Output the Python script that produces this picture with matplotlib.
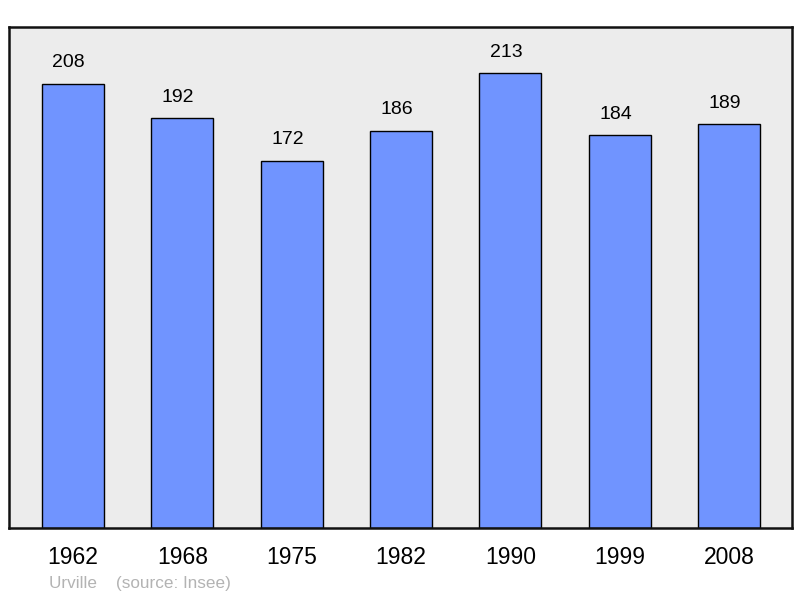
import matplotlib.pyplot as plt

# --- Data ---
years = ["1962", "1968", "1975", "1982", "1990", "1999", "2008"]
population = [208, 192, 172, 186, 213, 184, 189]

plt.rcParams['font.family'] = ['Liberation Sans', 'DejaVu Sans']

fig = plt.figure(figsize=(8, 5.98), dpi=100)
ax = fig.add_axes([0.01125, 0.117, 0.97875, 0.8378])
ax.set_facecolor('#ececec')

x = list(range(len(years)))
bars = ax.bar(x, population, width=0.567, color='#7094ff', edgecolor='black',
              linewidth=1.0, zorder=2)

# value labels above bars
for xi, v in zip(x, population):
    ax.annotate(str(v), (xi, v), xytext=(-3, 9), textcoords='offset points',
                ha='center', va='bottom', fontsize=14, color='black')

ax.set_xlim(-0.585, 6.576)
ax.set_ylim(0, 234.6)
ax.set_xticks(x)
ax.set_xticklabels(years, fontsize=16.5)
ax.tick_params(axis='x', length=0, pad=13)
ax.set_yticks([])

for s in ax.spines.values():
    s.set_linewidth(1.8)
    s.set_color('#111111')

fig.text(0.061, 0.012, "Urville    (source: Insee)", fontsize=12.3, color='#b3b3b3',
         ha='left', va='bottom')

fig.savefig("out.png", dpi=100)
